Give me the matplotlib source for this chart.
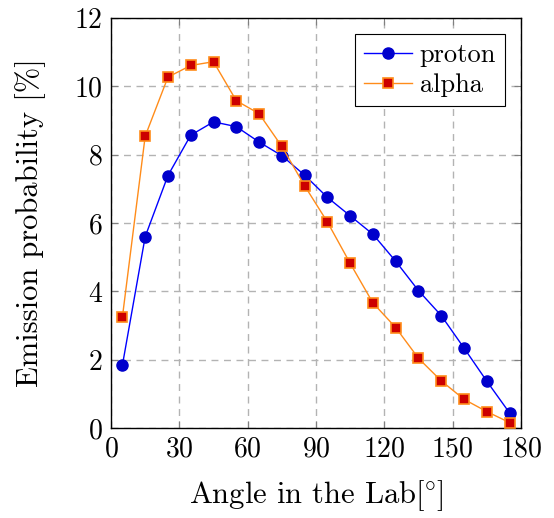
import numpy as np
import matplotlib
matplotlib.use("Agg")
import matplotlib.pyplot as plt

plt.rcParams['font.family'] = 'serif'
plt.rcParams['font.serif'] = ['cmr10']
plt.rcParams['mathtext.fontset'] = 'cm'
plt.rcParams['axes.formatter.use_mathtext'] = True

angle = [5, 15, 25, 35, 45, 55, 65, 75, 85, 95, 105, 115, 125, 135, 145, 155, 165, 175]
proton = [1.84, 5.60, 7.39, 8.57, 8.96, 8.82, 8.37, 7.97, 7.40, 6.75, 6.21, 5.67, 4.88,
          4.02, 3.29, 2.34, 1.37, 0.44]
alpha = [3.25, 8.54, 10.27, 10.61, 10.72, 9.58, 9.20, 8.24, 7.09, 6.03, 4.82, 3.66, 2.94,
         2.04, 1.38, 0.84, 0.48, 0.16]

xticks = [0, 30, 60, 90, 120, 150, 180]
yticks = [0, 2, 4, 6, 8, 10, 12]

fig = plt.figure(figsize=(5.54, 5.18), dpi=100)
ax = fig.add_axes([0.2004, 0.1737, 0.7400, 0.7916])

ax.plot(angle, proton, color='#0000ff', lw=1.0, marker='o', ms=8.0,
        mfc='#0000cc', mec='#0000cc', label='proton', zorder=3)
ax.plot(angle, alpha, color='#ff8c1a', lw=1.0, marker='s', ms=7.4,
        mfc='#cc0000', mec='#ff8c1a', mew=1.2, label='alpha', zorder=3)

ax.set_xlim(0, 180)
ax.set_ylim(0, 12)
ax.set_xticks(xticks)
ax.set_yticks(yticks)
ax.grid(True, color='#b3b3b3', ls=(0, (5, 4)), lw=1.0)
ax.tick_params(direction='in', length=5, width=0.8, color='#808080',
               top=True, right=True, labelsize=20, pad=6)
for s in ax.spines.values():
    s.set_linewidth(1.0)

ax.set_xlabel('Angle in the Lab$[\\!{}^\\circ\\!]$', fontsize=22, labelpad=11)
ax.set_ylabel('Emission probability [%]', fontsize=22, labelpad=20)

leg = ax.legend(loc='upper right', fontsize=19, fancybox=False, framealpha=1,
                edgecolor='black', borderaxespad=0.6, handlelength=1.8,
                handletextpad=0.3, labelspacing=0.25, borderpad=0.35)
leg.get_frame().set_linewidth(0.8)

fig.savefig('out.png', dpi=100)
